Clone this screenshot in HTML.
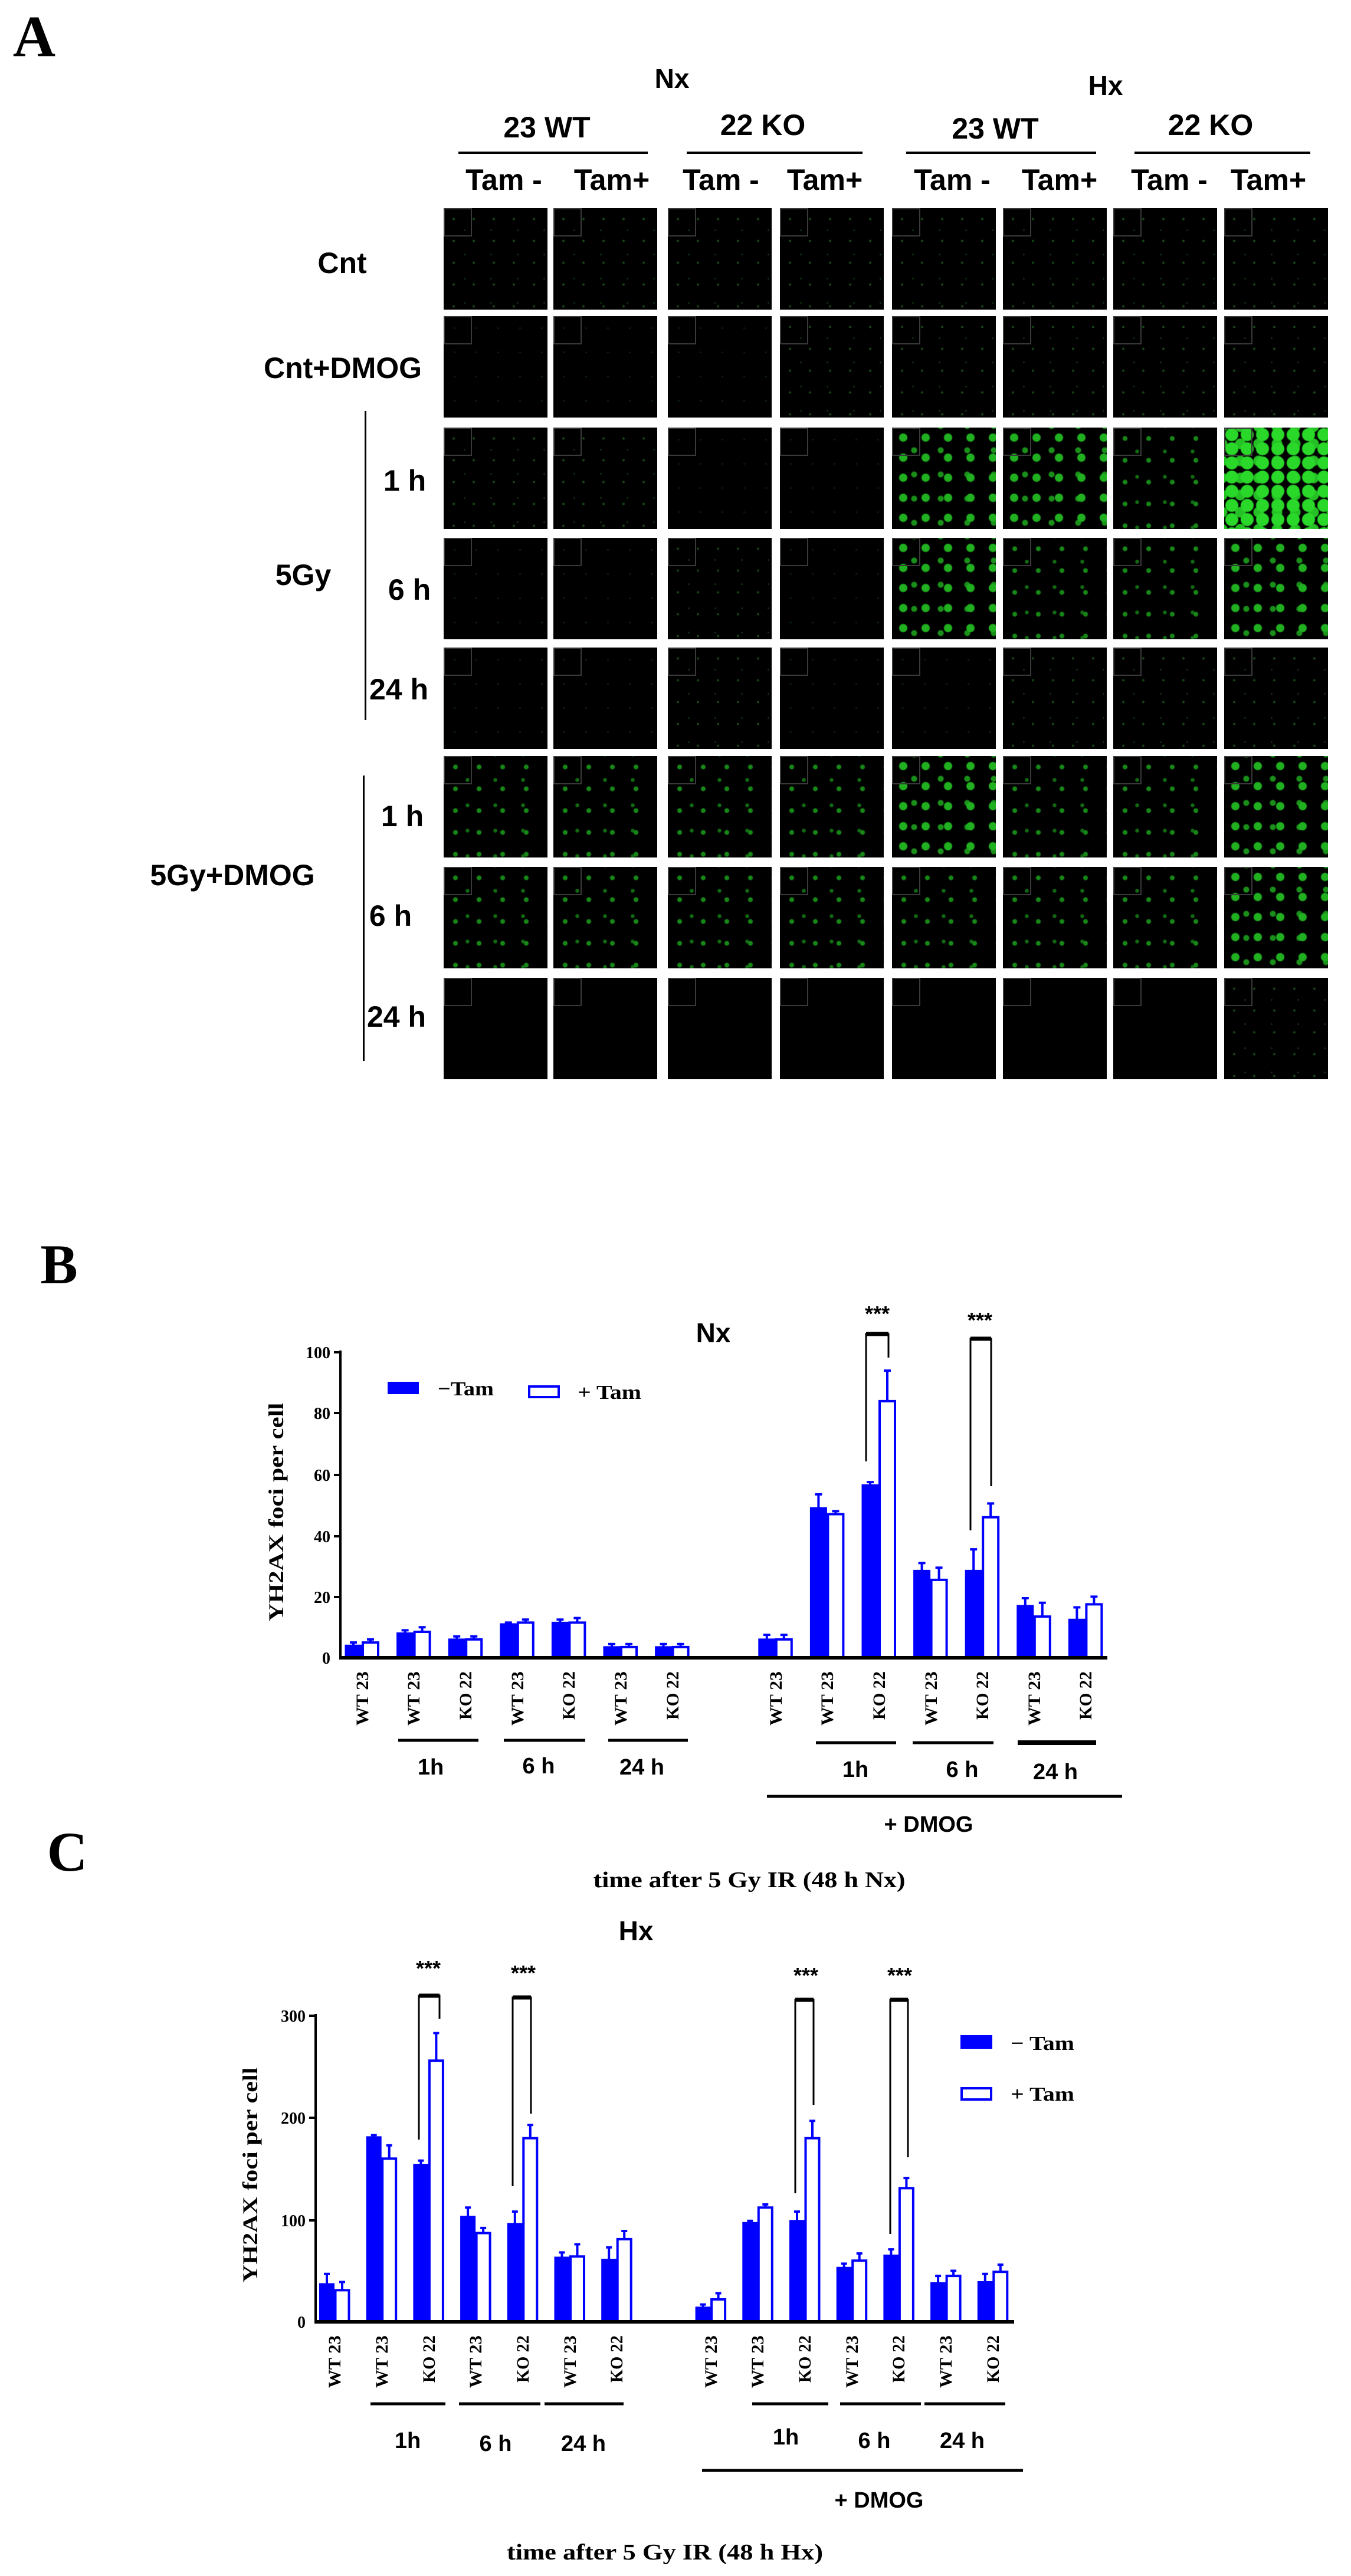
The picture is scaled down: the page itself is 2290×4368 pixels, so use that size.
<!DOCTYPE html>
<html><head><meta charset="utf-8"><style>
body{margin:0;background:#fff;}
#w{position:relative;width:2290px;height:4368px;overflow:hidden;background:#fff;font-family:"Liberation Sans",sans-serif;}
.c{position:absolute;transform:translate(-50%,-50%);white-space:nowrap;font-weight:bold;font-size:50px;color:#000;}
.p{position:absolute;width:176px;height:172px;background-color:#000;overflow:hidden;}
.p i{position:absolute;left:0;top:0;width:44px;height:44px;border:2px solid #3a3a3a;}
.g0{background-image:radial-gradient(circle,rgba(20,70,20,.5) 1px,transparent 2px);background-size:37px 41px;}
.g1{background-image:radial-gradient(circle,rgba(30,100,30,.7) 1.5px,transparent 2.5px),radial-gradient(circle,rgba(30,80,30,.6) 1px,transparent 2px);background-size:34px 37px,45px 41px;background-position:0 0,13px 17px;}
.g2{background-image:radial-gradient(circle,#188818 3px,transparent 5px),radial-gradient(circle,#126a12 2.5px,transparent 4px);background-size:40px 37px,47px 43px;background-position:0 0,17px 19px;}
.g3{background-image:radial-gradient(circle,#20b020 6px,transparent 8px),radial-gradient(circle,#1a901a 4px,transparent 6px);background-size:38px 34px,45px 41px;background-position:0 0,15px 18px;}
.g4{background-image:radial-gradient(circle,#2ad82a 10px,transparent 12px),radial-gradient(circle,#25c025 8px,transparent 10px);background-size:26px 24px,31px 29px;background-position:0 0,12px 13px;}
.L{position:absolute;background:#000;}
</style></head><body><div id="w">
<div class="c" style="left:58px;top:62px;font-family:'Liberation Serif',serif;font-size:100px;">A</div>
<div class="c" style="left:1139px;top:133px;font-size:46px">Nx</div>
<div class="c" style="left:1874px;top:145px;font-size:46px">Hx</div>
<div class="c" style="left:927px;top:216px">23 WT</div>
<div class="c" style="left:1293px;top:212px">22 KO</div>
<div class="c" style="left:1687px;top:218px">23 WT</div>
<div class="c" style="left:2052px;top:212px">22 KO</div>
<div class="L" style="left:777px;top:257px;width:321px;height:4px"></div>
<div class="L" style="left:1164px;top:257px;width:298px;height:4px"></div>
<div class="L" style="left:1536px;top:257px;width:322px;height:4px"></div>
<div class="L" style="left:1923px;top:257px;width:298px;height:4px"></div>
<div class="c" style="left:854px;top:305px">Tam -</div>
<div class="c" style="left:1037px;top:305px">Tam+</div>
<div class="c" style="left:1222px;top:305px">Tam -</div>
<div class="c" style="left:1398px;top:305px">Tam+</div>
<div class="c" style="left:1614px;top:305px">Tam -</div>
<div class="c" style="left:1796px;top:305px">Tam+</div>
<div class="c" style="left:1982px;top:305px">Tam -</div>
<div class="c" style="left:2150px;top:305px">Tam+</div>
<div class="c" style="left:580px;top:446px">Cnt</div>
<div class="c" style="left:581px;top:624px">Cnt+DMOG</div>
<div class="c" style="left:514px;top:975px">5Gy</div>
<div class="c" style="left:686px;top:815px">1 h</div>
<div class="c" style="left:694px;top:1000px">6 h</div>
<div class="c" style="left:676px;top:1169px">24 h</div>
<div class="c" style="left:394px;top:1484px">5Gy+DMOG</div>
<div class="c" style="left:682px;top:1384px">1 h</div>
<div class="c" style="left:662px;top:1553px">6 h</div>
<div class="c" style="left:672px;top:1724px">24 h</div>
<div class="L" style="left:618px;top:697px;width:3px;height:524px"></div>
<div class="L" style="left:615px;top:1315px;width:3px;height:484px"></div>

<div class="p g1" style="left:752px;top:353px"><i></i></div><div class="p g1" style="left:938px;top:353px"><i></i></div><div class="p g1" style="left:1132px;top:353px"><i></i></div><div class="p g1" style="left:1322px;top:353px"><i></i></div><div class="p g1" style="left:1512px;top:353px"><i></i></div><div class="p g1" style="left:1700px;top:353px"><i></i></div><div class="p g1" style="left:1887px;top:353px"><i></i></div><div class="p g1" style="left:2075px;top:353px"><i></i></div>
<div class="p g0" style="left:752px;top:536px"><i></i></div><div class="p g0" style="left:938px;top:536px"><i></i></div><div class="p g0" style="left:1132px;top:536px"><i></i></div><div class="p g1" style="left:1322px;top:536px"><i></i></div><div class="p g1" style="left:1512px;top:536px"><i></i></div><div class="p g1" style="left:1700px;top:536px"><i></i></div><div class="p g1" style="left:1887px;top:536px"><i></i></div><div class="p g1" style="left:2075px;top:536px"><i></i></div>
<div class="p g1" style="left:752px;top:725px"><i></i></div><div class="p g1" style="left:938px;top:725px"><i></i></div><div class="p g0" style="left:1132px;top:725px"><i></i></div><div class="p g0" style="left:1322px;top:725px"><i></i></div><div class="p g3" style="left:1512px;top:725px"><i></i></div><div class="p g3" style="left:1700px;top:725px"><i></i></div><div class="p g2" style="left:1887px;top:725px"><i></i></div><div class="p g4" style="left:2075px;top:725px"><i></i></div>
<div class="p g0" style="left:752px;top:912px"><i></i></div><div class="p g0" style="left:938px;top:912px"><i></i></div><div class="p g1" style="left:1132px;top:912px"><i></i></div><div class="p g0" style="left:1322px;top:912px"><i></i></div><div class="p g3" style="left:1512px;top:912px"><i></i></div><div class="p g2" style="left:1700px;top:912px"><i></i></div><div class="p g2" style="left:1887px;top:912px"><i></i></div><div class="p g3" style="left:2075px;top:912px"><i></i></div>
<div class="p g0" style="left:752px;top:1098px"><i></i></div><div class="p g0" style="left:938px;top:1098px"><i></i></div><div class="p g1" style="left:1132px;top:1098px"><i></i></div><div class="p g0" style="left:1322px;top:1098px"><i></i></div><div class="p g0" style="left:1512px;top:1098px"><i></i></div><div class="p g1" style="left:1700px;top:1098px"><i></i></div><div class="p g1" style="left:1887px;top:1098px"><i></i></div><div class="p g1" style="left:2075px;top:1098px"><i></i></div>
<div class="p g2" style="left:752px;top:1282px"><i></i></div><div class="p g2" style="left:938px;top:1282px"><i></i></div><div class="p g2" style="left:1132px;top:1282px"><i></i></div><div class="p g2" style="left:1322px;top:1282px"><i></i></div><div class="p g3" style="left:1512px;top:1282px"><i></i></div><div class="p g2" style="left:1700px;top:1282px"><i></i></div><div class="p g2" style="left:1887px;top:1282px"><i></i></div><div class="p g3" style="left:2075px;top:1282px"><i></i></div>
<div class="p g2" style="left:752px;top:1470px"><i></i></div><div class="p g2" style="left:938px;top:1470px"><i></i></div><div class="p g2" style="left:1132px;top:1470px"><i></i></div><div class="p g2" style="left:1322px;top:1470px"><i></i></div><div class="p g2" style="left:1512px;top:1470px"><i></i></div><div class="p g2" style="left:1700px;top:1470px"><i></i></div><div class="p g2" style="left:1887px;top:1470px"><i></i></div><div class="p g3" style="left:2075px;top:1470px"><i></i></div>
<div class="p" style="left:752px;top:1658px"><i></i></div><div class="p" style="left:938px;top:1658px"><i></i></div><div class="p" style="left:1132px;top:1658px"><i></i></div><div class="p" style="left:1322px;top:1658px"><i></i></div><div class="p" style="left:1512px;top:1658px"><i></i></div><div class="p" style="left:1700px;top:1658px"><i></i></div><div class="p" style="left:1887px;top:1658px"><i></i></div><div class="p g1" style="left:2075px;top:1658px"><i></i></div>

<svg style="position:absolute;left:0;top:0" width="2290" height="4368" xmlns="http://www.w3.org/2000/svg" font-family="Liberation Serif, serif" font-weight="bold">
<text x="100" y="2176" font-size="95" text-anchor="middle">B</text>
<text x="1209" y="2276" font-size="46" text-anchor="middle" font-family="Liberation Sans, sans-serif">Nx</text>
<line x1="577" y1="2290" x2="577" y2="2814" stroke="#000" stroke-width="4"/>
<g stroke="#000" stroke-width="4"><line x1="566" y1="2293" x2="577" y2="2293"/><line x1="566" y1="2396" x2="577" y2="2396"/><line x1="566" y1="2501" x2="577" y2="2501"/><line x1="566" y1="2605" x2="577" y2="2605"/><line x1="566" y1="2708" x2="577" y2="2708"/></g>
<g font-size="28" text-anchor="end"><text x="560" y="2303">100</text><text x="560" y="2406">80</text><text x="560" y="2511">60</text><text x="560" y="2615">40</text><text x="560" y="2718">20</text><text x="560" y="2821">0</text></g>
<text transform="translate(480,2564) rotate(-90)" font-size="36" text-anchor="middle" textLength="371" lengthAdjust="spacingAndGlyphs">ΥH2AX foci per cell</text>
<g transform="translate(0,2811) scale(1,-5.18)" fill="#0000ff" stroke="#0000ff">
<g stroke-width="3">
<rect x="586" y="0" width="26" height="4" vector-effect="non-scaling-stroke"/>
<rect x="673.6" y="0" width="26" height="8" vector-effect="non-scaling-stroke"/>
<rect x="761.2" y="0" width="26" height="6" vector-effect="non-scaling-stroke"/>
<rect x="848.8" y="0" width="26" height="11" vector-effect="non-scaling-stroke"/>
<rect x="936.4" y="0" width="26" height="11.5" vector-effect="non-scaling-stroke"/>
<rect x="1024" y="0" width="26" height="3.5" vector-effect="non-scaling-stroke"/>
<rect x="1111.6" y="0" width="26" height="3.5" vector-effect="non-scaling-stroke"/>
<rect x="1286.8" y="0" width="26" height="6" vector-effect="non-scaling-stroke"/>
<rect x="1374.4" y="0" width="26" height="49" vector-effect="non-scaling-stroke"/>
<rect x="1462" y="0" width="26" height="56.5" vector-effect="non-scaling-stroke"/>
<rect x="1549.6" y="0" width="26" height="28.5" vector-effect="non-scaling-stroke"/>
<rect x="1637.2" y="0" width="26" height="28.5" vector-effect="non-scaling-stroke"/>
<rect x="1724.8" y="0" width="26" height="17" vector-effect="non-scaling-stroke"/>
<rect x="1812.4" y="0" width="26" height="12.5" vector-effect="non-scaling-stroke"/>
</g>
<g fill="#fff" stroke-width="4">
<rect x="615" y="0" width="26" height="5" vector-effect="non-scaling-stroke"/>
<rect x="702.6" y="0" width="26" height="8.5" vector-effect="non-scaling-stroke"/>
<rect x="790.2" y="0" width="26" height="6" vector-effect="non-scaling-stroke"/>
<rect x="877.8" y="0" width="26" height="11.5" vector-effect="non-scaling-stroke"/>
<rect x="965.4" y="0" width="26" height="11.5" vector-effect="non-scaling-stroke"/>
<rect x="1053" y="0" width="26" height="3.5" vector-effect="non-scaling-stroke"/>
<rect x="1140.6" y="0" width="26" height="3.5" vector-effect="non-scaling-stroke"/>
<rect x="1315.8" y="0" width="26" height="6" vector-effect="non-scaling-stroke"/>
<rect x="1403.4" y="0" width="26" height="47" vector-effect="non-scaling-stroke"/>
<rect x="1491" y="0" width="26" height="84" vector-effect="non-scaling-stroke"/>
<rect x="1578.6" y="0" width="26" height="25.5" vector-effect="non-scaling-stroke"/>
<rect x="1666.2" y="0" width="26" height="46" vector-effect="non-scaling-stroke"/>
<rect x="1753.8" y="0" width="26" height="13.5" vector-effect="non-scaling-stroke"/>
<rect x="1841.4" y="0" width="26" height="17.5" vector-effect="non-scaling-stroke"/>
</g>
<g stroke-width="4" fill="none">
<path vector-effect="non-scaling-stroke" d="M599 4V5M593 5H605 M628 5V6M622 6H634 M686.6 8V9M680.6 9H692.6 M715.6 8.5V10M709.6 10H721.6 M774.2 6V7M768.2 7H780.2 M803.2 6V7M797.2 7H809.2 M861.8 11V11.5M855.8 11.5H867.8 M890.8 11.5V12.5M884.8 12.5H896.8 M949.4 11.5V12.5M943.4 12.5H955.4 M978.4 11.5V13M972.4 13H984.4 M1037 3.5V4.5M1031 4.5H1043 M1066 3.5V4.5M1060 4.5H1072 M1124.6 3.5V4.5M1118.6 4.5H1130.6 M1153.6 3.5V4.5M1147.6 4.5H1159.6 M1299.8 6V7.5M1293.8 7.5H1305.8 M1328.8 6V7.5M1322.8 7.5H1334.8 M1387.4 49V53.5M1381.4 53.5H1393.4 M1416.4 47V48M1410.4 48H1422.4 M1475 56.5V57.5M1469 57.5H1481 M1504 84V94M1498 94H1510 M1562.6 28.5V31M1556.6 31H1568.6 M1591.6 25.5V29.5M1585.6 29.5H1597.6 M1650.2 28.5V35.5M1644.2 35.5H1656.2 M1679.2 46V50.5M1673.2 50.5H1685.2 M1737.8 17V19.5M1731.8 19.5H1743.8 M1766.8 13.5V18M1760.8 18H1772.8 M1825.4 12.5V16.5M1819.4 16.5H1831.4 M1854.4 17.5V20M1848.4 20H1860.4"/>
</g></g>
<line x1="577" y1="2811" x2="1877" y2="2811" stroke="#000" stroke-width="6"/>
<path d="M1468 2478V2262H1506V2302 M1645 2595V2270H1680V2520" stroke="#000" stroke-width="3" fill="none"/>
<path d="M1468 2262H1506 M1645 2270H1680" stroke="#000" stroke-width="7"/>
<text x="1487" y="2240" font-size="36" text-anchor="middle" font-family="Liberation Sans, sans-serif">***</text>
<text x="1661" y="2251" font-size="36" text-anchor="middle" font-family="Liberation Sans, sans-serif">***</text>
<rect x="657" y="2343" width="53" height="21" fill="#0000ff"/>
<text x="742" y="2366" font-size="34" textLength="95" lengthAdjust="spacingAndGlyphs">−Tam</text>
<rect x="897" y="2351" width="50" height="18" fill="#fff" stroke="#0000ff" stroke-width="4"/>
<text x="979" y="2372" font-size="34" textLength="108" lengthAdjust="spacingAndGlyphs">+ Tam</text>
<g font-size="30">
<text transform="translate(624,2926) rotate(-90)" textLength="92" lengthAdjust="spacingAndGlyphs">WT 23</text>
<text transform="translate(711,2926) rotate(-90)" textLength="92" lengthAdjust="spacingAndGlyphs">WT 23</text>
<text transform="translate(799,2916) rotate(-90)" textLength="82" lengthAdjust="spacingAndGlyphs">KO 22</text>
<text transform="translate(887,2926) rotate(-90)" textLength="92" lengthAdjust="spacingAndGlyphs">WT 23</text>
<text transform="translate(974,2916) rotate(-90)" textLength="82" lengthAdjust="spacingAndGlyphs">KO 22</text>
<text transform="translate(1062,2926) rotate(-90)" textLength="92" lengthAdjust="spacingAndGlyphs">WT 23</text>
<text transform="translate(1150,2916) rotate(-90)" textLength="82" lengthAdjust="spacingAndGlyphs">KO 22</text>
<text transform="translate(1325,2926) rotate(-90)" textLength="92" lengthAdjust="spacingAndGlyphs">WT 23</text>
<text transform="translate(1412,2926) rotate(-90)" textLength="92" lengthAdjust="spacingAndGlyphs">WT 23</text>
<text transform="translate(1500,2916) rotate(-90)" textLength="82" lengthAdjust="spacingAndGlyphs">KO 22</text>
<text transform="translate(1588,2926) rotate(-90)" textLength="92" lengthAdjust="spacingAndGlyphs">WT 23</text>
<text transform="translate(1675,2916) rotate(-90)" textLength="82" lengthAdjust="spacingAndGlyphs">KO 22</text>
<text transform="translate(1763,2926) rotate(-90)" textLength="92" lengthAdjust="spacingAndGlyphs">WT 23</text>
<text transform="translate(1850,2916) rotate(-90)" textLength="82" lengthAdjust="spacingAndGlyphs">KO 22</text>
</g>
<g stroke="#000" stroke-width="5"><line x1="675" y1="2951" x2="811" y2="2951"/><line x1="854" y1="2951" x2="992" y2="2951"/><line x1="1031" y1="2951" x2="1166" y2="2951"/><line x1="1383" y1="2955" x2="1519" y2="2955"/><line x1="1547" y1="2955" x2="1684" y2="2955"/><line x1="1725" y1="2955" x2="1858" y2="2955" stroke-width="8"/><line x1="1300" y1="3046" x2="1902" y2="3046"/></g>
<g font-family="Liberation Sans, sans-serif" font-size="38" text-anchor="middle">
<text x="730" y="3009">1h</text><text x="913" y="3007">6 h</text><text x="1088" y="3009">24 h</text>
<text x="1450" y="3013">1h</text><text x="1631" y="3013">6 h</text><text x="1789" y="3017">24 h</text>
<text x="1574" y="3106">+ DMOG</text>
</g>
<text x="114" y="3172" font-size="95" text-anchor="middle">C</text>
<text x="1270" y="3200" font-size="38" text-anchor="middle" textLength="529" lengthAdjust="spacingAndGlyphs">time after 5 Gy IR (48 h Nx)</text>

<text x="1078" y="3290" font-size="46" text-anchor="middle" font-family="Liberation Sans, sans-serif">Hx</text>
<line x1="535" y1="3415" x2="535" y2="3940" stroke="#000" stroke-width="4"/>
<g stroke="#000" stroke-width="4"><line x1="524" y1="3418" x2="535" y2="3418"/><line x1="524" y1="3591" x2="535" y2="3591"/><line x1="524" y1="3765" x2="535" y2="3765"/></g>
<g font-size="28" text-anchor="end"><text x="518" y="3428">300</text><text x="518" y="3601">200</text><text x="518" y="3775">100</text><text x="518" y="3947">0</text></g>
<text transform="translate(436,3688) rotate(-90)" font-size="36" text-anchor="middle" textLength="365" lengthAdjust="spacingAndGlyphs">ΥH2AX foci per cell</text>
<g transform="translate(0,3937) scale(1,-1.73)" fill="#0000ff" stroke="#0000ff">
<g stroke-width="3">
<rect x="542.5" y="0" width="23" height="37" vector-effect="non-scaling-stroke"/>
<rect x="622.2" y="0" width="23" height="181" vector-effect="non-scaling-stroke"/>
<rect x="701.9" y="0" width="23" height="154" vector-effect="non-scaling-stroke"/>
<rect x="781.6" y="0" width="23" height="103" vector-effect="non-scaling-stroke"/>
<rect x="861.3" y="0" width="23" height="96" vector-effect="non-scaling-stroke"/>
<rect x="941" y="0" width="23" height="63" vector-effect="non-scaling-stroke"/>
<rect x="1020.7" y="0" width="23" height="61" vector-effect="non-scaling-stroke"/>
<rect x="1180.1" y="0" width="23" height="14" vector-effect="non-scaling-stroke"/>
<rect x="1259.8" y="0" width="23" height="97" vector-effect="non-scaling-stroke"/>
<rect x="1339.5" y="0" width="23" height="99" vector-effect="non-scaling-stroke"/>
<rect x="1419.2" y="0" width="23" height="53" vector-effect="non-scaling-stroke"/>
<rect x="1498.9" y="0" width="23" height="65" vector-effect="non-scaling-stroke"/>
<rect x="1578.6" y="0" width="23" height="38" vector-effect="non-scaling-stroke"/>
<rect x="1658.3" y="0" width="23" height="39" vector-effect="non-scaling-stroke"/>
</g>
<g fill="#fff" stroke-width="4">
<rect x="568.5" y="0" width="23" height="31" vector-effect="non-scaling-stroke"/>
<rect x="648.2" y="0" width="23" height="160" vector-effect="non-scaling-stroke"/>
<rect x="727.9" y="0" width="23" height="256" vector-effect="non-scaling-stroke"/>
<rect x="807.6" y="0" width="23" height="87" vector-effect="non-scaling-stroke"/>
<rect x="887.3" y="0" width="23" height="180" vector-effect="non-scaling-stroke"/>
<rect x="967" y="0" width="23" height="64" vector-effect="non-scaling-stroke"/>
<rect x="1046.7" y="0" width="23" height="81" vector-effect="non-scaling-stroke"/>
<rect x="1206.1" y="0" width="23" height="22" vector-effect="non-scaling-stroke"/>
<rect x="1285.8" y="0" width="23" height="112" vector-effect="non-scaling-stroke"/>
<rect x="1365.5" y="0" width="23" height="180" vector-effect="non-scaling-stroke"/>
<rect x="1445.2" y="0" width="23" height="60" vector-effect="non-scaling-stroke"/>
<rect x="1524.9" y="0" width="23" height="131" vector-effect="non-scaling-stroke"/>
<rect x="1604.6" y="0" width="23" height="45" vector-effect="non-scaling-stroke"/>
<rect x="1684.3" y="0" width="23" height="49" vector-effect="non-scaling-stroke"/>
</g>
<g stroke-width="4" fill="none">
<path vector-effect="non-scaling-stroke" d="M554 37V47M549 47H559 M580 31V39M575 39H585 M633.7 181V183M628.7 183H638.7 M659.7 160V173M654.7 173H664.7 M713.4 154V158M708.4 158H718.4 M739.4 256V283M734.4 283H744.4 M793.1 103V112M788.1 112H798.1 M819.1 87V92M814.1 92H824.1 M872.8 96V108M867.8 108H877.8 M898.8 180V193M893.8 193H903.8 M952.5 63V68M947.5 68H957.5 M978.5 64V76M973.5 76H983.5 M1032.2 61V73M1027.2 73H1037.2 M1058.2 81V89M1053.2 89H1063.2 M1191.6 14V17M1186.6 17H1196.6 M1217.6 22V28M1212.6 28H1222.6 M1271.3 97V99M1266.3 99H1276.3 M1297.3 112V115M1292.3 115H1302.3 M1351 99V108M1346 108H1356 M1377 180V197M1372 197H1382 M1430.7 53V57M1425.7 57H1435.7 M1456.7 60V67M1451.7 67H1461.7 M1510.4 65V71M1505.4 71H1515.4 M1536.4 131V141M1531.4 141H1541.4 M1590.1 38V45M1585.1 45H1595.1 M1616.1 45V50M1611.1 50H1621.1 M1669.8 39V47M1664.8 47H1674.8 M1695.8 49V56M1690.8 56H1700.8"/>
</g></g>
<line x1="535" y1="3937" x2="1719" y2="3937" stroke="#000" stroke-width="6"/>
<path d="M710 3628V3384H745V3423 M869 3707V3387H900V3584 M1348 3719V3391H1379V3569 M1509 3788V3391H1539V3658" stroke="#000" stroke-width="3" fill="none"/>
<path d="M710 3384H745 M869 3387H900 M1348 3391H1379 M1509 3391H1539" stroke="#000" stroke-width="7"/>
<g font-size="36" text-anchor="middle" font-family="Liberation Sans, sans-serif">
<text x="726" y="3350">***</text><text x="887" y="3358">***</text><text x="1366" y="3362">***</text><text x="1525" y="3362">***</text></g>
<rect x="1628" y="3451" width="54" height="23" fill="#0000ff"/>
<text x="1713" y="3476" font-size="34" textLength="108" lengthAdjust="spacingAndGlyphs">− Tam</text>
<rect x="1630" y="3541" width="50" height="19" fill="#fff" stroke="#0000ff" stroke-width="4"/>
<text x="1713" y="3562" font-size="34" textLength="108" lengthAdjust="spacingAndGlyphs">+ Tam</text>
<g font-size="30">
<text transform="translate(577,4049) rotate(-90)" textLength="89" lengthAdjust="spacingAndGlyphs">WT 23</text>
<text transform="translate(657,4049) rotate(-90)" textLength="89" lengthAdjust="spacingAndGlyphs">WT 23</text>
<text transform="translate(737,4040) rotate(-90)" textLength="80" lengthAdjust="spacingAndGlyphs">KO 22</text>
<text transform="translate(816,4049) rotate(-90)" textLength="89" lengthAdjust="spacingAndGlyphs">WT 23</text>
<text transform="translate(896,4040) rotate(-90)" textLength="80" lengthAdjust="spacingAndGlyphs">KO 22</text>
<text transform="translate(976,4049) rotate(-90)" textLength="89" lengthAdjust="spacingAndGlyphs">WT 23</text>
<text transform="translate(1055,4040) rotate(-90)" textLength="80" lengthAdjust="spacingAndGlyphs">KO 22</text>
<text transform="translate(1215,4049) rotate(-90)" textLength="89" lengthAdjust="spacingAndGlyphs">WT 23</text>
<text transform="translate(1294,4049) rotate(-90)" textLength="89" lengthAdjust="spacingAndGlyphs">WT 23</text>
<text transform="translate(1374,4040) rotate(-90)" textLength="80" lengthAdjust="spacingAndGlyphs">KO 22</text>
<text transform="translate(1454,4049) rotate(-90)" textLength="89" lengthAdjust="spacingAndGlyphs">WT 23</text>
<text transform="translate(1533,4040) rotate(-90)" textLength="80" lengthAdjust="spacingAndGlyphs">KO 22</text>
<text transform="translate(1613,4049) rotate(-90)" textLength="89" lengthAdjust="spacingAndGlyphs">WT 23</text>
<text transform="translate(1693,4040) rotate(-90)" textLength="80" lengthAdjust="spacingAndGlyphs">KO 22</text>
</g>
<g stroke="#000" stroke-width="5"><line x1="628" y1="4076" x2="755" y2="4076"/><line x1="778" y1="4076" x2="916" y2="4076"/><line x1="923" y1="4076" x2="1057" y2="4076"/><line x1="1275" y1="4076" x2="1404" y2="4076"/><line x1="1424" y1="4076" x2="1561" y2="4076"/><line x1="1567" y1="4076" x2="1704" y2="4076"/><line x1="1190" y1="4189" x2="1734" y2="4189"/></g>
<g font-family="Liberation Sans, sans-serif" font-size="38" text-anchor="middle">
<text x="691" y="4151">1h</text><text x="840" y="4156">6 h</text><text x="989" y="4156">24 h</text>
<text x="1332" y="4145">1h</text><text x="1482" y="4151">6 h</text><text x="1631" y="4151">24 h</text>
<text x="1490" y="4252">+ DMOG</text>
</g>
<text x="1127" y="4340" font-size="38" text-anchor="middle" textLength="536" lengthAdjust="spacingAndGlyphs">time after 5 Gy IR (48 h Hx)</text>
</svg>
</div></body></html>
